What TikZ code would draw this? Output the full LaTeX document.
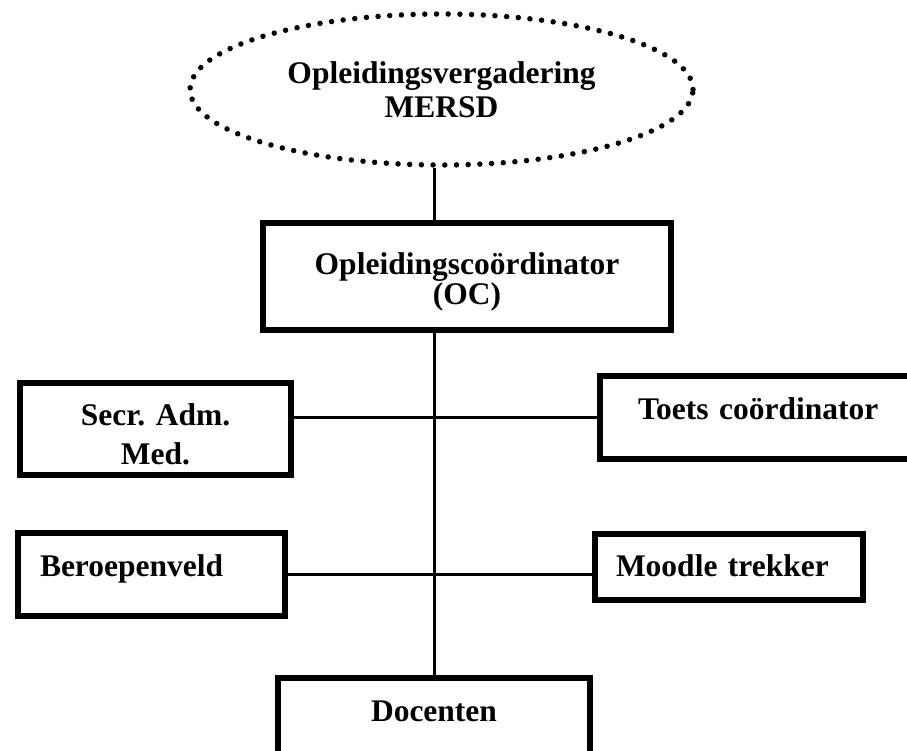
\documentclass[tikz,border=0pt]{standalone}
\usepackage{fontspec}
\setmainfont{Liberation Serif}
\usetikzlibrary{shapes.geometric}

\tikzset{
  orgbox/.style={draw, rectangle, line width=6pt, anchor=north west, inner sep=0pt,
    font=\bfseries\fontsize{31.5}{34}\selectfont\frenchspacing},
  meeting/.style={draw, ellipse, line width=5.5pt, dash pattern=on 0pt off 11.7pt,
    line cap=round, align=center, font=\bfseries\fontsize{31.5}{34}\selectfont},
  link/.style={line width=3pt},
}

\begin{document}
\begin{tikzpicture}[x=1pt,y=-1pt]
   \clip (0,0) rectangle (907,751);
   % top of the chart
   \node[meeting, minimum width=503pt, minimum height=151pt] (vergadering) at (441.5,89.5) {Opleidingsvergadering\\MERSD};
   \node[orgbox, text width=408pt, align=center, text height=51pt, text depth=56pt] (oc) at (260,220) {Opleidingscoördinator\\[-4pt](OC)};
   % side boxes
   \node[orgbox, text width=271pt, align=center, text height=42pt, text depth=50pt] (secr) at (17,380) {Secr. Adm.\\[5pt]Med.};
   \node[orgbox, inner xsep=38pt, text width=257pt, align=left, text height=43pt, text depth=40pt] (toets) at (597,373) {Toets coördinator};
   \node[orgbox, inner xsep=22pt, text width=223pt, align=left, text height=43pt, text depth=40pt] (beroep) at (15,530) {Beroepenveld};
   \node[orgbox, inner xsep=21pt, text width=226pt, align=left, text height=42pt, text depth=24pt] (moodle) at (592,531) {Moodle trekker};
   % bottom
   \node[orgbox, text width=312pt, align=center, text height=43pt, text depth=72pt] (docenten) at (275,675) {Docenten};
   % lines
   \draw[link] (docenten.north |- vergadering.south) -- (docenten.north |- oc.north);
   \draw[link] (docenten.north |- oc.south) -- (docenten.north);
   \draw[link] (secr.east |- toets.west) -- (toets.west);
   \draw[link] (beroep.east) -- (beroep.east -| moodle.west);
\end{tikzpicture}
\end{document}
